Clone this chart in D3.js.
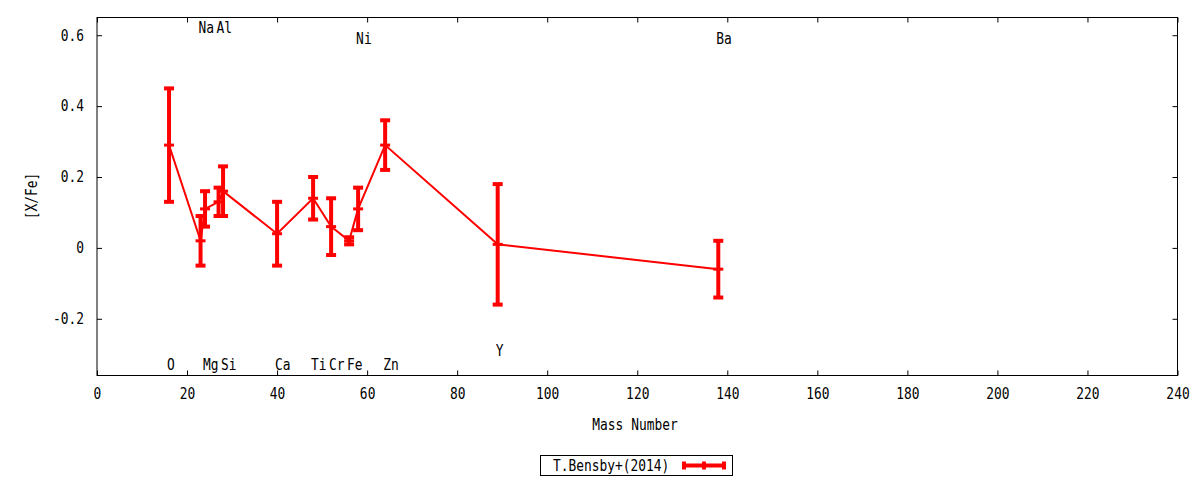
<!DOCTYPE html>
<html>
<head>
<meta charset="utf-8">
<script src="https://cdn.jsdelivr.net/npm/d3@7"></script>
<style>
    body { margin: 0; background: #fff; }
    svg text { font-family: "DejaVu Sans Mono", monospace; font-size: 15px; fill: #000; }
</style>
</head>
<body>
<svg id="chart" width="1200" height="480"></svg>
<script>
// [X/Fe] vs mass number, T.Bensby+(2014)
const elements = ['O', 'Na', 'Mg', 'Al', 'Si', 'Ca', 'Ti', 'Cr', 'Fe', 'Ni', 'Zn', 'Y', 'Ba'];
const massNumbers = [16, 23, 24, 27, 28, 40, 48, 52, 56, 58, 64, 89, 138];
const xfe = [0.29, 0.02, 0.11, 0.13, 0.16, 0.04, 0.14, 0.06, 0.02, 0.11, 0.29, 0.01, -0.06];
const xfeLow = [0.13, -0.05, 0.06, 0.09, 0.09, -0.05, 0.08, -0.02, 0.01, 0.05, 0.22, -0.16, -0.14];
const xfeHigh = [0.45, 0.09, 0.16, 0.17, 0.23, 0.13, 0.20, 0.14, 0.03, 0.17, 0.36, 0.18, 0.02];
// label heights in data units
const labelLevels = [-0.33, 0.62, -0.33, 0.62, -0.33, -0.33, -0.33, -0.33, -0.33, 0.59, -0.33, -0.29, 0.59];
const xTicks = d3.range(0, 241, 20);
const yTicks = [-0.2, 0, 0.2, 0.4, 0.6];
const seriesName = 'T.Bensby+(2014)';

const frame = { left: 97, right: 1177.5, top: 17.5, bottom: 375.5 };
const squeeze = 'scale(0.86,1)'; // narrow glyphs like the gnuplot font
const red = '#ff0000';

const svg = d3.select('#chart');

const x = d3.scaleLinear().domain([0, 240]).range([frame.left, frame.right]);
const y = d3.scaleLinear().domain([-0.36, 0.65]).range([frame.bottom, frame.top]);

function label(g, px, py, str, anchor, rotate) {
    return g.append('text')
        .attr('transform', `translate(${px},${py})${rotate ? ' rotate(-90)' : ''} ${squeeze}`)
        .attr('text-anchor', anchor)
        .text(str);
}

// axes (ticks point inward, mirrored on top/right)
const yAxis = svg.append('g')
    .attr('transform', `translate(${frame.left},0)`)
    .call(d3.axisLeft(y).tickValues(yTicks).tickSizeInner(-5).tickSizeOuter(0)
        .tickFormat(d => d === 0 ? '0' : d.toFixed(1)));
yAxis.selectAll('text')
    .attr('x', null)
    .attr('transform', `translate(-13,0) ${squeeze}`);

const xAxis = svg.append('g')
    .attr('transform', `translate(0,${frame.bottom})`)
    .call(d3.axisBottom(x).tickValues(xTicks).tickSizeInner(-5).tickSizeOuter(0));
xAxis.selectAll('text')
    .attr('y', null)
    .attr('transform', `translate(0,13) ${squeeze}`);

svg.append('g')
    .attr('transform', `translate(${frame.right},0)`)
    .call(d3.axisRight(y).tickValues(yTicks).tickSizeInner(-5).tickSizeOuter(0).tickFormat(''));
svg.append('g')
    .attr('transform', `translate(0,${frame.top})`)
    .call(d3.axisTop(x).tickValues(xTicks).tickSizeInner(-5).tickSizeOuter(0).tickFormat(''));

svg.selectAll('.domain').remove();
svg.selectAll('.tick line').attr('stroke', '#000');
svg.selectAll('.tick text').attr('font-family', null).attr('font-size', null).attr('fill', null);

svg.append('rect')
    .attr('x', frame.left).attr('y', frame.top)
    .attr('width', frame.right - frame.left).attr('height', frame.bottom - frame.top)
    .attr('fill', 'none').attr('stroke', '#000').attr('stroke-width', 1);

// axis titles
label(svg, 635, 430, 'Mass Number', 'middle');
label(svg, 37, 196, '[X/Fe]', 'middle', true);

// element labels
const points = elements.map((el, i) => ({
    el, mass: massNumbers[i], v: xfe[i], lo: xfeLow[i], hi: xfeHigh[i], ly: labelLevels[i]
}));

const labelGroup = svg.append('g').attr('class', 'element-labels');
points.forEach(p => label(labelGroup, x(p.mass) - 2, y(p.ly) + 5, p.el, 'start'));

// connecting line
svg.append('path')
    .datum(points)
    .attr('fill', 'none')
    .attr('stroke', red)
    .attr('stroke-width', 2)
    .attr('d', d3.line().x(d => x(d.mass)).y(d => y(d.v)));

// error bars with caps
const capHalf = 5;
const bars = svg.append('g').attr('stroke', red).attr('stroke-width', 4);
points.forEach(p => {
    const cx = x(p.mass);
    bars.append('line').attr('x1', cx).attr('x2', cx).attr('y1', y(p.lo)).attr('y2', y(p.hi));
    [p.lo, p.hi, p.v].forEach(v => {
        bars.append('line')
            .attr('x1', cx - capHalf).attr('x2', cx + capHalf)
            .attr('y1', y(v)).attr('y2', y(v))
            .attr('stroke-width', v === p.v ? 3 : 4);
    });
});

// legend
const legend = svg.append('g');
legend.append('rect')
    .attr('x', 540.5).attr('y', 455.5).attr('width', 192).attr('height', 20)
    .attr('fill', '#fff').attr('stroke', '#000');
label(legend, 553, 471, seriesName, 'start');
const legendY = 465.5;
legend.append('line').attr('x1', 683).attr('x2', 725).attr('y1', legendY).attr('y2', legendY)
    .attr('stroke', red).attr('stroke-width', 4);
[684, 704, 724].forEach(lx => {
    legend.append('line').attr('x1', lx).attr('x2', lx).attr('y1', legendY - 4).attr('y2', legendY + 4)
        .attr('stroke', red).attr('stroke-width', 4);
});
</script>
</body>
</html>
